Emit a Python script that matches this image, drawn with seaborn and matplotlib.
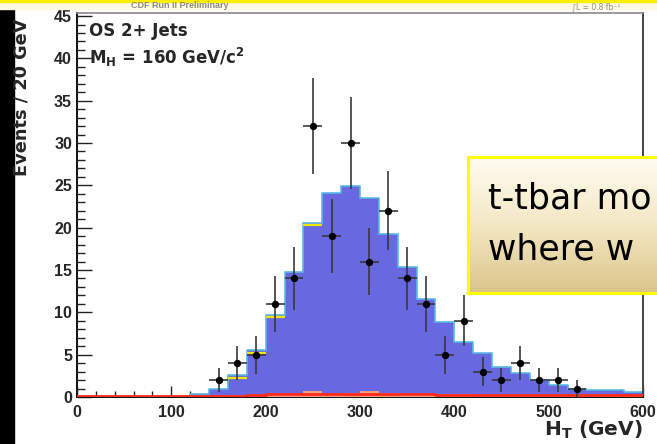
import numpy as np
import matplotlib
matplotlib.use("Agg")
import matplotlib.pyplot as plt
from matplotlib.patches import Rectangle
from matplotlib.colors import LinearSegmentedColormap
from matplotlib.ticker import MultipleLocator, FixedLocator
import seaborn as sns

# ---- binning (20 GeV bins from 0 to 600 GeV) ----
bin_edges = list(range(0, 620, 20))
bin_centers = [e + 10 for e in bin_edges[:-1]]

# stacked expectation: top of the full stack (blue t-tbar component)
stack_total = [0, 0, 0, 0, 0, 0, 0.3, 0.9, 2.6, 5.6,
               9.7, 14.8, 20.6, 24.1, 24.9, 23.5, 19.3, 15.4, 11.6, 8.9,
               6.5, 5.2, 3.6, 2.8, 2.0, 1.4, 1.0, 0.8, 0.8, 0.6]
# stack height below the top component (yellow outline)
stack_below_top = [0, 0, 0, 0, 0, 0, 0.3, 0.9, 2.3, 5.2,
                   9.45, 14.8, 20.35, 24.1, 24.9, 23.5, 19.3, 15.4, 11.6, 8.9,
                   6.5, 5.2, 3.6, 2.8, 2.0, 1.4, 1.0, 0.8, 0.8, 0.6]
# small backgrounds at the bottom of the stack (orange)
small_bkg = [0, 0, 0, 0, 0, 0, 0.1, 0.15, 0.2, 0.25,
             0.35, 0.4, 0.65, 0.4, 0.45, 0.65, 0.45, 0.4, 0.35, 0.3,
             0.3, 0.25, 0.25, 0.2, 0.2, 0.2, 0.15, 0.15, 0.15, 0.15]
# Higgs signal, M_H = 160 GeV/c^2 (red line)
higgs_signal = [0.15, 0.15, 0.15, 0.15, 0.15, 0.15, 0.15, 0.15, 0.15, 0.2,
                0.3, 0.3, 0.35, 0.35, 0.35, 0.35, 0.3, 0.3, 0.3, 0.25,
                0.25, 0.25, 0.2, 0.2, 0.2, 0.2, 0.2, 0.2, 0.2, 0.2]

# observed events
data_ht = [150, 170, 190, 210, 230, 250, 270, 290, 310, 330,
           350, 370, 390, 410, 430, 450, 470, 490, 510, 530]
data_counts = [2, 4, 5, 11, 14, 32, 19, 30, 16, 22,
               14, 11, 5, 9, 3, 2, 4, 2, 2, 1]

x_ticks = [0, 100, 200, 300, 400, 500, 600]
y_ticks = [0, 5, 10, 15, 20, 25, 30, 35, 40, 45]

sns.set_style("ticks")
plt.rcParams["font.family"] = ["Liberation Sans", "DejaVu Sans"]
plt.rcParams["mathtext.fontset"] = "custom"
plt.rcParams["mathtext.rm"] = "DejaVu Sans"
plt.rcParams["mathtext.bf"] = "DejaVu Sans:bold"
plt.rcParams["mathtext.it"] = "DejaVu Sans:italic"

TITLE_FONT = ["DejaVu Sans"]

W, H = 657, 444
fig = plt.figure(figsize=(W / 100, H / 100), dpi=100)
fig.patch.set_facecolor("white")
ax = fig.add_axes([77 / W, (H - 397) / H, (643 - 77) / W, (397 - 13.5) / H])

blue = "#6868e0"
sns.histplot(x=bin_centers, weights=stack_total, bins=bin_edges, element="step",
             fill=True, color=blue, alpha=1.0, linewidth=0, ax=ax, zorder=1)
sns.histplot(x=bin_centers, weights=stack_total, bins=bin_edges, element="step",
             fill=False, color="#5ab8e6", linewidth=1.2, ax=ax, zorder=2)

# yellow outline of the lower stack where it separates from the top component
lo = np.array(stack_below_top)
hi = np.array(stack_total)
sep = lo < hi - 1e-9
edges = np.array(bin_edges, dtype=float)
ax.hlines(lo[sep], edges[:-1][sep], edges[1:][sep], color="#f2e600",
          linewidth=1.6, zorder=3)

sns.histplot(x=bin_centers, weights=small_bkg, bins=bin_edges, element="step",
             fill=True, color="#f0a080", alpha=1.0, linewidth=0, ax=ax, zorder=4)
sns.histplot(x=bin_centers, weights=higgs_signal, bins=bin_edges, element="step",
             fill=False, color="#ff2a1a", linewidth=2.0, ax=ax, zorder=5)

# data points with Poisson errors
errs = np.sqrt(np.array(data_counts, dtype=float))
ax.errorbar(data_ht, data_counts, yerr=errs, xerr=10, fmt="none",
            ecolor="#3a3a3a", elinewidth=1.2, zorder=6)
sns.scatterplot(x=data_ht, y=data_counts, color="black", s=28,
                edgecolor="black", linewidth=0, ax=ax, zorder=7)

ax.set_xlim(0, 600)
ax.set_ylim(0, 45.3)
ax.set_xlabel("")
ax.set_ylabel("")
ax.xaxis.set_major_locator(FixedLocator(x_ticks))
ax.yaxis.set_major_locator(FixedLocator(y_ticks))
ax.xaxis.set_minor_locator(MultipleLocator(20))
ax.yaxis.set_minor_locator(MultipleLocator(1))
ax.tick_params(axis="both", which="both", direction="in", top=False, right=False,
               color="#222222", width=1.0)
ax.tick_params(axis="y", which="major", length=10.5, pad=3.6)
ax.tick_params(axis="y", which="minor", length=5.5)
ax.tick_params(axis="x", which="major", length=8, pad=6.0)
ax.tick_params(axis="x", which="minor", length=4.3)
for lab in ax.get_xticklabels() + ax.get_yticklabels():
    lab.set_fontsize(11.5)
    lab.set_fontweight("bold")

for side, col, lw in [("left", "#111111", 1.4), ("bottom", "#111111", 1.4),
                      ("top", "#8a8a8a", 1.2), ("right", "#444444", 1.4)]:
    ax.spines[side].set_visible(True)
    ax.spines[side].set_color(col)
    ax.spines[side].set_linewidth(lw)

# axis titles
fig.text(21.5 / W, 1 - 97 / H, "Events / 20 GeV", rotation=90, ha="center",
         va="center", fontsize=12.8, fontweight="bold", family=TITLE_FONT, zorder=4)
fig.text(643 / W, 1 - 436 / H, r"H$_\mathbf{T}$ (GeV)", ha="right",
         va="baseline", fontsize=14.5, fontweight="bold", family=TITLE_FONT)

# channel labels
fig.text(89 / W, 1 - 36 / H, "OS 2+ Jets", ha="left", va="baseline",
         fontsize=12, fontweight="bold", family=TITLE_FONT)
fig.text(89 / W, 1 - 64 / H, r"M$_\mathbf{H}$ = 160 GeV/c$^\mathbf{2}$",
         ha="left", va="baseline", fontsize=12, fontweight="bold", family=TITLE_FONT)

# slide frame pieces
fig.patches.append(Rectangle((0, 0), 14 / W, 1 - 10 / H, transform=fig.transFigure,
                             color="black", zorder=1))
fig.patches.append(Rectangle((0, 1 - 9 / H), 1, 9 / H, transform=fig.transFigure,
                             color="#fffbe2", zorder=1))
fig.patches.append(Rectangle((0, 1 - 2.5 / H), 1, 2.5 / H, transform=fig.transFigure,
                             color="#ffee00", zorder=1))
fig.text(180 / W, 1 - 8 / H, "CDF Run II Preliminary", ha="center",
         va="baseline", fontsize=6.5, fontweight="bold", color="#8a8a8a", zorder=2)
fig.text(596 / W, 1 - 9 / H, "\u222bL = 0.8 fb\u207b\u00b9", ha="center",
         va="baseline", fontsize=5.5, color="#8a8a8a", family=TITLE_FONT, zorder=2)

# call-out box
box = fig.add_axes([468 / W, (H - 293) / H, (720 - 468) / W, (293 - 157) / H])
grad = np.linspace(0, 1, 256).reshape(-1, 1)
cmap = LinearSegmentedColormap.from_list("callout", ["#fffcf2", "#f3e8c4", "#dcc48a"])
box.imshow(grad, aspect="auto", cmap=cmap, extent=[0, 1, 1, 0])
box.set_xticks([])
box.set_yticks([])
for sp in box.spines.values():
    sp.set_color("#ffff00")
    sp.set_linewidth(2.2)
fig.text(488 / W, 1 - 208 / H, "t-tbar mo", ha="left", va="baseline",
         fontsize=25, color="black", family=TITLE_FONT, zorder=5)
fig.text(488 / W, 1 - 259 / H, "where w", ha="left", va="baseline",
         fontsize=25, color="black", family=TITLE_FONT, zorder=5)

fig.savefig("out.png", dpi=100)
